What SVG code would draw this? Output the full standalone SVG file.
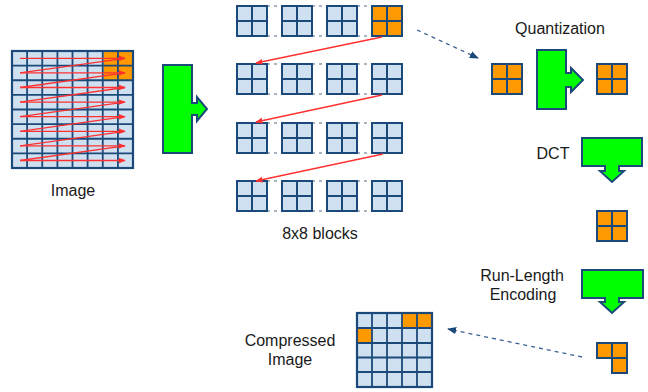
<svg xmlns="http://www.w3.org/2000/svg" width="648" height="392" viewBox="0 0 648 392">
<style>
.t{font-family:"Liberation Sans",Arial,sans-serif;font-size:16px;fill:#1a1a1a;text-anchor:middle}
.cell{fill:#cfe0f1;stroke:#1b4a7a;stroke-width:2}
.ocell{fill:#ff9900;stroke:#1b4a7a;stroke-width:2}
.grn{fill:#00ff00;stroke:#1b4a7a;stroke-width:2;stroke-linejoin:miter}
.red{stroke:#ff3030;stroke-width:1.3;fill:none}
.gd{stroke:#8a9cb0;stroke-width:1.6;stroke-dasharray:3,4;fill:none}
.bd{stroke:#3a6190;stroke-width:1.3;stroke-dasharray:4,4;fill:none}
</style>
<defs>
<marker id="ar" viewBox="0 0 10 10" refX="9" refY="5" markerWidth="5.5" markerHeight="5.5" orient="auto"><path d="M0,1L10,5L0,9z" fill="#ff3030"/></marker>
<marker id="ab" viewBox="0 0 10 10" refX="9" refY="5" markerWidth="7" markerHeight="7" orient="auto"><path d="M0,1L10,5L0,9z" fill="#1b4a7a"/></marker>
<g id="blk"><rect class="cell" x="0" y="0" width="15" height="15"/><rect class="cell" x="15" y="0" width="15" height="15"/><rect class="cell" x="0" y="15" width="15" height="15"/><rect class="cell" x="15" y="15" width="15" height="15"/></g>
<g id="oblk"><rect class="ocell" x="0" y="0" width="15" height="15"/><rect class="ocell" x="15" y="0" width="15" height="15"/><rect class="ocell" x="0" y="15" width="15" height="15"/><rect class="ocell" x="15" y="15" width="15" height="15"/></g>
</defs>

<g id="image">
<rect x="12" y="51" width="121" height="117" fill="#cfe0f1"/>
<rect x="103.75" y="51" width="29.25" height="29.25" fill="#ff9900"/>
<path d="M27.1,51V168M42.25,51V168M57.4,51V168M72.5,51V168M87.6,51V168M102.75,51V168M117.9,51V168M12,65.6H133M12,80.25H133M12,94.9H133M12,109.5H133M12,124.1H133M12,138.75H133M12,153.4H133" stroke="#1b4a7a" stroke-width="1.8" fill="none"/>
<rect x="12" y="51" width="121" height="117" fill="none" stroke="#1b4a7a" stroke-width="2.2"/>
<g class="red">
<path d="M20,58.3H125" marker-end="url(#ar)"/><path d="M125,58.3L20,72.9"/>
<path d="M20,72.9H125" marker-end="url(#ar)"/><path d="M125,72.9L20,87.5"/>
<path d="M20,87.5H125" marker-end="url(#ar)"/><path d="M125,87.5L20,102.1"/>
<path d="M20,102.1H125" marker-end="url(#ar)"/><path d="M125,102.1L20,116.7"/>
<path d="M20,116.7H125" marker-end="url(#ar)"/><path d="M125,116.7L20,131.3"/>
<path d="M20,131.3H125" marker-end="url(#ar)"/><path d="M125,131.3L20,145.9"/>
<path d="M20,145.9H125" marker-end="url(#ar)"/><path d="M125,145.9L20,160.5"/>
<path d="M20,160.5H125" marker-end="url(#ar)"/>
</g>
<text class="t" x="73" y="196">Image</text>
</g>

<g id="split-arrow">
<path class="grn" d="M163,65H192V103H197V97L207,109L197,121V115H192V153H163Z"/>
</g>

<g id="blocks">
<g class="gd">
<path d="M267,6H282M312,6H327M357,6H372M267,36H282M312,36H327M357,36H372"/>
<path d="M267,64H282M312,64H327M357,64H372M267,94H282M312,94H327M357,94H372"/>
<path d="M267,123H282M312,123H327M357,123H372M267,153H282M312,153H327M357,153H372"/>
<path d="M267,181H282M312,181H327M357,181H372M267,211H282M312,211H327M357,211H372"/>
</g>
<use href="#blk" x="237" y="6"/><use href="#blk" x="282" y="6"/><use href="#blk" x="327" y="6"/><use href="#oblk" x="372" y="6"/>
<use href="#blk" x="237" y="64"/><use href="#blk" x="282" y="64"/><use href="#blk" x="327" y="64"/><use href="#blk" x="372" y="64"/>
<use href="#blk" x="237" y="123"/><use href="#blk" x="282" y="123"/><use href="#blk" x="327" y="123"/><use href="#blk" x="372" y="123"/>
<use href="#blk" x="237" y="181"/><use href="#blk" x="282" y="181"/><use href="#blk" x="327" y="181"/><use href="#blk" x="372" y="181"/>
<text class="t" x="320" y="239">8x8 blocks</text>
</g>

<g id="quantization">
<text class="t" x="560" y="34">Quantization</text>
<use href="#oblk" x="492" y="64"/>
<path class="grn" d="M537,50H566V73H571V68L583,80L571,92V87H566V109H537Z"/>
<use href="#oblk" x="597" y="64"/>
</g>

<g id="dct">
<text class="t" x="553" y="159">DCT</text>
<path class="grn" d="M582,138H642V166H619V171H624L612,182L600,171H605V166H582Z"/>
<use href="#oblk" x="597" y="211"/>
</g>

<g id="rle">
<text class="t" x="522" y="281">Run-Length</text>
<text class="t" x="523" y="300">Encoding</text>
<path class="grn" d="M582,270H643V298H619V302H624L612,313L600,302H605V298H582Z"/>
<rect class="ocell" x="597" y="343" width="15" height="15"/><rect class="ocell" x="612" y="343" width="15" height="15"/><rect class="ocell" x="612" y="358" width="15" height="15"/>
</g>

<g id="compressed">
<rect x="357" y="313" width="75" height="74" fill="#cfe0f1"/>
<rect x="402" y="313" width="30" height="15" fill="#ff9900"/>
<rect x="357" y="328" width="15" height="15" fill="#ff9900"/>
<path d="M372,313V387M387,313V387M402,313V387M417,313V387M357,328H432M357,343H432M357,357.5H432M357,372H432" stroke="#1b4a7a" stroke-width="1.8" fill="none"/>
<rect x="357" y="313" width="75" height="74" fill="none" stroke="#1b4a7a" stroke-width="2.2"/>
<text class="t" x="290" y="346">Compressed</text>
<text class="t" x="290" y="365">Image</text>
</g>

<g id="connectors">
<path class="red" d="M382,37L256,63" marker-end="url(#ar)"/>
<path class="red" d="M382,95L256,122" marker-end="url(#ar)"/>
<path class="red" d="M383,154L256,181" marker-end="url(#ar)"/>
<path class="bd" d="M417,30L478,58" marker-end="url(#ab)"/>
<path class="bd" d="M582,357L448,329" marker-end="url(#ab)"/>
</g>
</svg>
